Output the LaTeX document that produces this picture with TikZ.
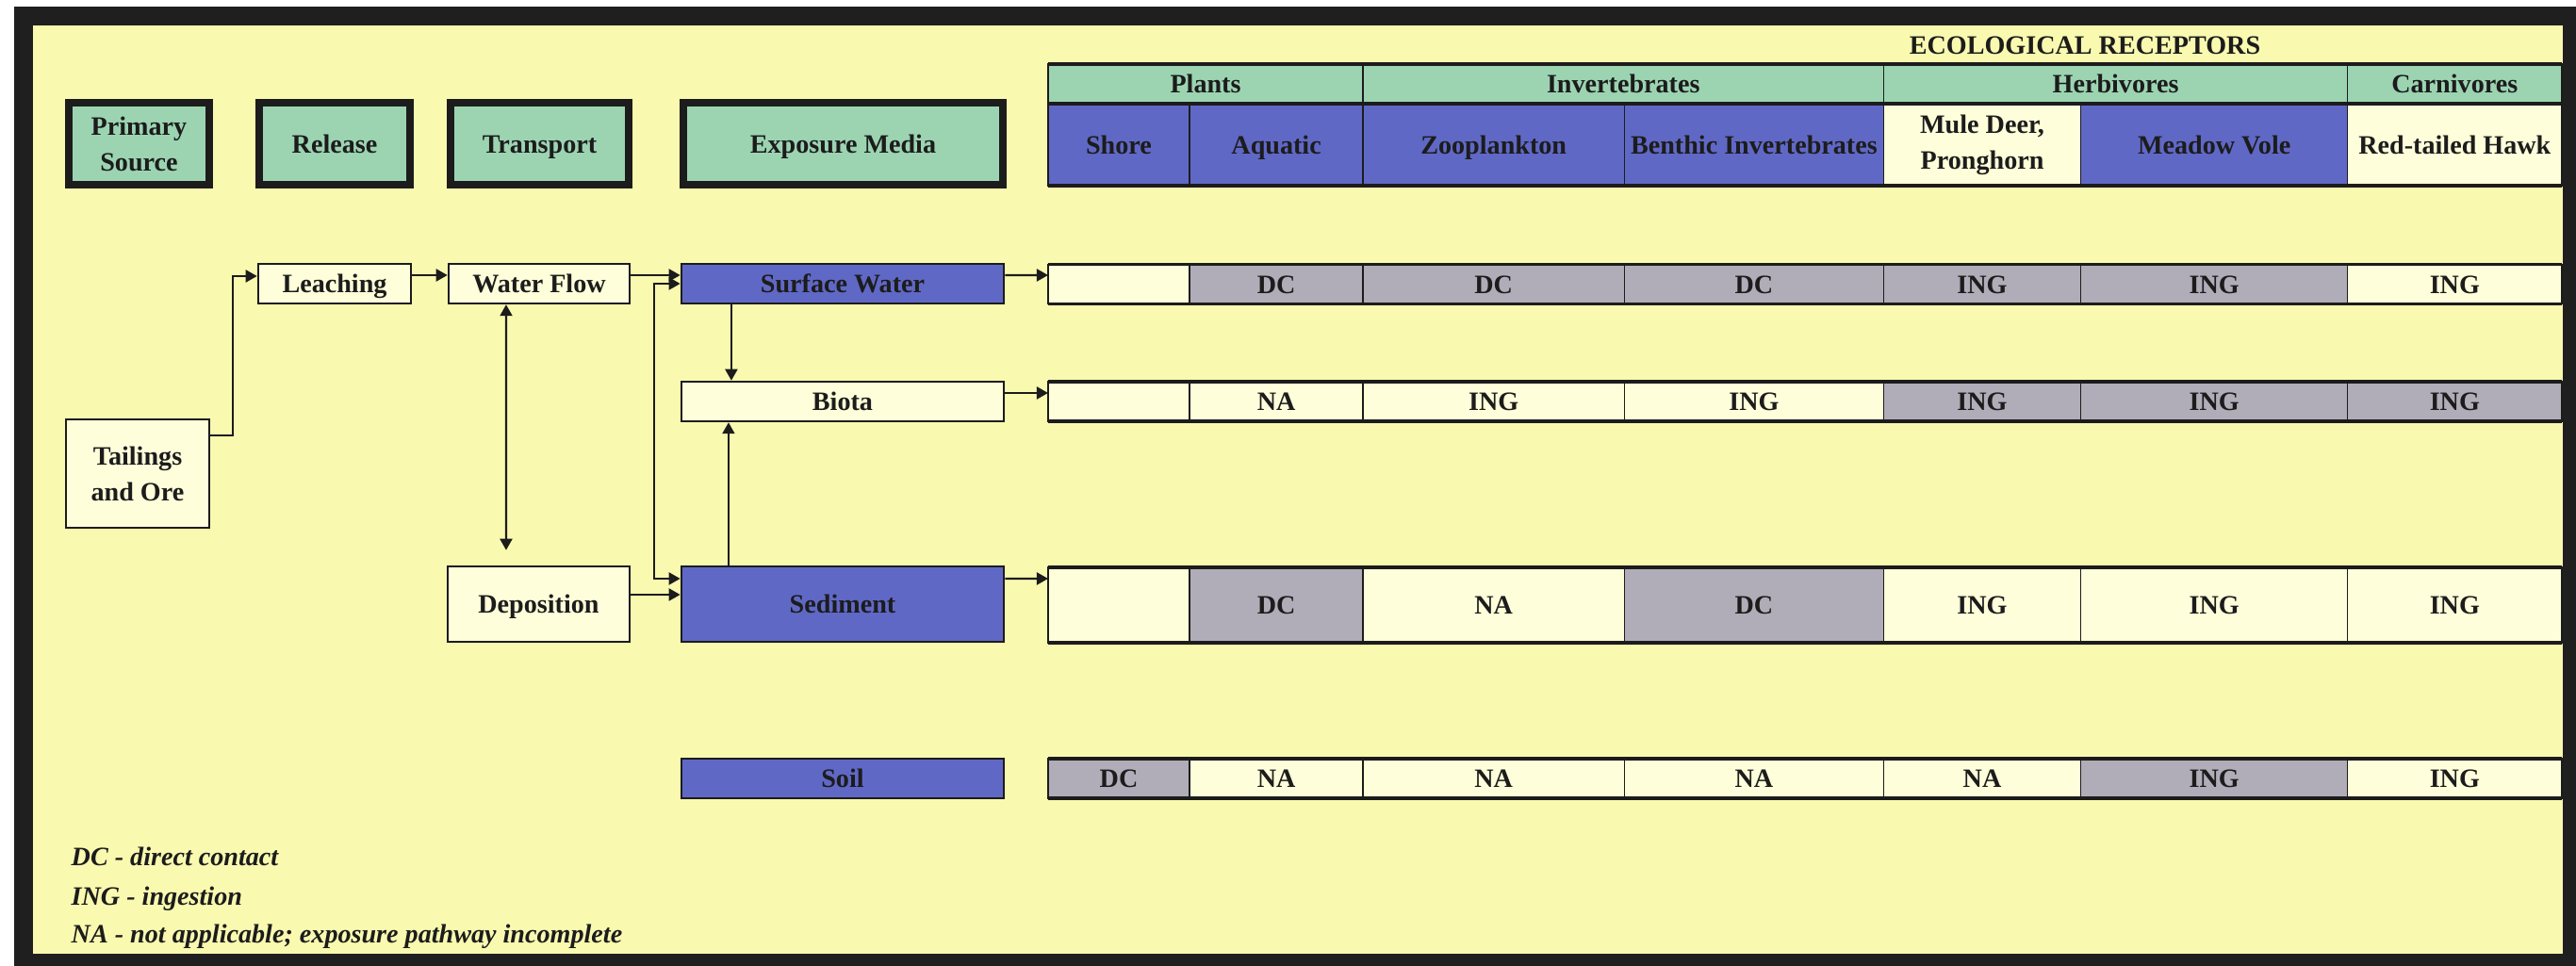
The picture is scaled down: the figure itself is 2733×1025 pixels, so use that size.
\documentclass[tikz,border=0pt]{standalone}
\usepackage{fontspec}
\setmainfont{Liberation Serif}
\usetikzlibrary{arrows.meta,positioning}
\definecolor{paper}{RGB}{249,249,176}
\definecolor{sea}{RGB}{156,212,178}
\definecolor{media}{RGB}{96,104,198}
\definecolor{shade}{RGB}{176,172,184}
\definecolor{cream}{RGB}{254,254,218}
\definecolor{ink}{RGB}{28,28,28}
\begin{document}
\begin{tikzpicture}[x=0.01cm, y=-0.01cm, >={Triangle[length=0.12cm,width=0.13cm]},
	every node/.style = {font=\fontsize{8}{10.8}\selectfont\bfseries, text=ink},
	head/.style = {draw=ink, line width=2.1pt, fill=sea, inner sep=0pt, align=center, minimum height=0.87cm, text height=1.45ex, text depth=0.25ex},
	main/.style = {draw=ink, line width=0.7pt, fill=cream, inner sep=0pt, align=center, minimum height=0.42cm, text height=1.45ex, text depth=0.25ex},
	mediabox/.style = {main, fill=media, minimum width=3.42cm},
	cell/.style = {draw=ink, line width=0.4pt, fill=cream, inner sep=0pt, outer sep=0pt, align=center, minimum height=0.42cm, text height=1.45ex, text depth=0.25ex},
	gcell/.style = {cell, fill=shade},
	bcell/.style = {cell, fill=media},
	tcell/.style = {cell, fill=sea},
	two/.style = {text height=, text depth=},
	sub/.style = {minimum height=0.87cm},
	tall/.style = {minimum height=0.80cm},
	w1/.style = {minimum width=1.50cm}, w2/.style = {minimum width=1.84cm},
	w3/.style = {minimum width=2.77cm}, w4/.style = {minimum width=2.75cm},
	w5/.style = {minimum width=2.09cm}, w6/.style = {minimum width=2.83cm},
	w7/.style = {minimum width=2.27cm},
	rule/.style = {draw=ink, line width=0.9pt},
	link/.style = {draw=ink, line width=0.6pt},
	legend/.style = {anchor=base west, inner sep=0pt, font=\fontsize{8}{10.8}\selectfont\bfseries\itshape}]
	\useasboundingbox (0,0) rectangle (2733,1025);
	\fill[white] (0,0) rectangle (2733,1025);
	\fill[black!88] (15,7) rectangle (2733,1025);
	\fill[paper] (35,27) rectangle (2719,1012);

	\node[head, two, minimum width=1.49cm] (ps) at (147.5,152.5) {Primary\\Source};
	\node[head, minimum width=1.60cm] (rel) at (355,152.5) {Release};
	\node[head, minimum width=1.89cm] (tra) at (572.5,152.5) {Transport};
	\node[head, minimum width=3.39cm] (exp) at (894.5,152.5) {Exposure Media};

	\node[main, two, minimum width=1.52cm, minimum height=1.15cm] (tail) at (146,502.5) {Tailings\\and Ore};
	\node[main, minimum width=1.62cm] (leach) at (355,301) {Leaching};
	\node[main, minimum width=1.92cm] (wflow) at (572,301) {Water Flow};
	\node[main, minimum width=1.93cm, minimum height=0.80cm] (depo) at (571.5,641) {Deposition};
	\node[mediabox] (sw) at (894,301) {Surface Water};
	\node[main, minimum width=3.42cm] (biota) at (894,426) {Biota};
	\node[mediabox, minimum height=0.80cm] (sed) at (894,641) {Sediment};
	\node[mediabox] (soil) at (894,826) {Soil};

	\draw[link, ->] ([yshift=0.405cm]tail.east) -- ++(24,0) |- ([yshift=0.08cm]leach.west);
	\draw[link, ->] ([yshift=0.09cm]leach.east) -- ([yshift=0.09cm]wflow.west);
	\draw[link, ->] ([yshift=0.09cm]wflow.east) -- ([yshift=0.09cm]sw.west);
	\draw[link, <->] ([xshift=-0.35cm]wflow.south) -- ([xshift=-0.345cm, yshift=0.16cm]depo.north);
	\draw[link, ->] ([xshift=-1.18cm]sw.south) -- ([xshift=-1.18cm]biota.north);
	\draw[link, ->] ([xshift=-1.21cm]sed.north) -- ([xshift=-1.21cm]biota.south);
	\draw[link, <->] (sw.west) -- ++(-28,0) |- ([yshift=0.27cm]sed.west);
	\draw[link, ->] ([yshift=0.10cm]depo.east) -- ([yshift=0.10cm]sed.west);

	\node (eco) at (2212,48) {ECOLOGICAL RECEPTORS};
	\node[tcell, minimum width=3.34cm] (g1) at (1279,89) {Plants};
	\node[tcell, minimum width=5.52cm, right=0pt of g1] (g2) {Invertebrates};
	\node[tcell, minimum width=4.92cm, right=0pt of g2] (g3) {Herbivores};
	\node[tcell, minimum width=2.27cm, right=0pt of g3] (g4) {Carnivores};
	\node[bcell, sub, w1] (s1) at (1187,153.5) {Shore};
	\node[bcell, sub, w2, right=0pt of s1] (s2) {Aquatic};
	\node[bcell, sub, w3, right=0pt of s2] (s3) {Zooplankton};
	\node[bcell, sub, w4, right=0pt of s3] (s4) {Benthic Invertebrates};
	\node[cell, sub, two, w5, right=0pt of s4] (s5) {Mule Deer,\\Pronghorn};
	\node[bcell, sub, w6, right=0pt of s5] (s6) {Meadow Vole};
	\node[cell, sub, w7, right=0pt of s6] (s7) {Red-tailed Hawk};
	\draw[rule] (g1.north west) -- (g4.north east);
	\draw[rule] (g1.south west) -- (g4.south east);
	\draw[rule] (s1.south west) -- (s7.south east);

	\node[cell, w1] (11) at (1187,301.5) {};
	\node[gcell, w2, right=0pt of 11] (12) {DC};
	\node[gcell, w3, right=0pt of 12] (13) {DC};
	\node[gcell, w4, right=0pt of 13] (14) {DC};
	\node[gcell, w5, right=0pt of 14] (15) {ING};
	\node[gcell, w6, right=0pt of 15] (16) {ING};
	\node[cell, w7, right=0pt of 16] (17) {ING};
	\draw[rule] (11.north west) -- (17.north east);
	\draw[rule] (11.south west) -- (17.south east);

	\node[cell, w1] (21) at (1187,426) {};
	\node[cell, w2, right=0pt of 21] (22) {NA};
	\node[cell, w3, right=0pt of 22] (23) {ING};
	\node[cell, w4, right=0pt of 23] (24) {ING};
	\node[gcell, w5, right=0pt of 24] (25) {ING};
	\node[gcell, w6, right=0pt of 25] (26) {ING};
	\node[gcell, w7, right=0pt of 26] (27) {ING};
	\draw[rule] (21.north west) -- (27.north east);
	\draw[rule] (21.south west) -- (27.south east);

	\node[cell, tall, w1] (31) at (1187,642) {};
	\node[gcell, tall, w2, right=0pt of 31] (32) {DC};
	\node[cell, tall, w3, right=0pt of 32] (33) {NA};
	\node[gcell, tall, w4, right=0pt of 33] (34) {DC};
	\node[cell, tall, w5, right=0pt of 34] (35) {ING};
	\node[cell, tall, w6, right=0pt of 35] (36) {ING};
	\node[cell, tall, w7, right=0pt of 36] (37) {ING};
	\draw[rule] (31.north west) -- (37.north east);
	\draw[rule] (31.south west) -- (37.south east);

	\node[gcell, w1] (41) at (1187,826) {DC};
	\node[cell, w2, right=0pt of 41] (42) {NA};
	\node[cell, w3, right=0pt of 42] (43) {NA};
	\node[cell, w4, right=0pt of 43] (44) {NA};
	\node[cell, w5, right=0pt of 44] (45) {NA};
	\node[gcell, w6, right=0pt of 45] (46) {ING};
	\node[cell, w7, right=0pt of 46] (47) {ING};
	\draw[rule] (41.north west) -- (47.north east);
	\draw[rule] (41.south west) -- (47.south east);

	\draw[link, ->] ([yshift=0.09cm]sw.east) -- ([yshift=0.095cm]11.west);
	\draw[link, ->] ([yshift=0.09cm]biota.east) -- ([yshift=0.09cm]21.west);
	\draw[link, ->] ([yshift=0.27cm]sed.east) -- ([yshift=0.28cm]31.west);

	\node[legend] (dc) at (75,918) {DC - direct contact};
	\node[legend] (ing) at (75,960) {ING - ingestion};
	\node[legend] (na) at (75,1000) {NA - not applicable; exposure pathway incomplete};
\end{tikzpicture}
\end{document}
